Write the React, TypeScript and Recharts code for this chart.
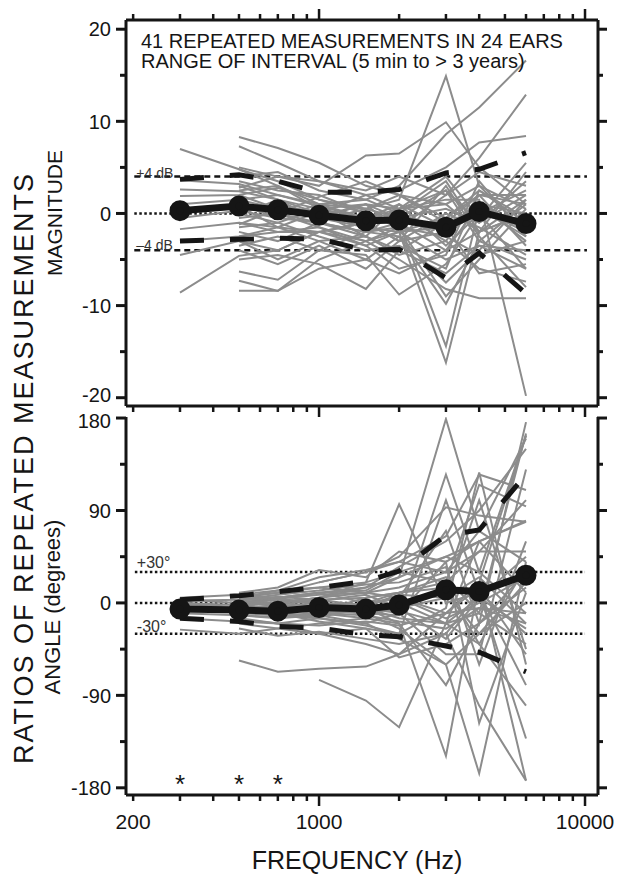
import React from "react";
import { ComposedChart, Line, XAxis, YAxis, ReferenceLine, Scatter } from "recharts";

const freqs = [300, 500, 700, 1000, 1500, 2000, 3000, 4000, 6000];
const xTicks = [200, 300, 400, 500, 600, 700, 800, 900, 1000, 2000, 3000, 4000, 5000, 6000, 7000, 8000, 9000, 10000];
const xLabels = [200, 1000, 10000];
const magTicks = [-20, -15, -10, -5, 0, 5, 10, 15, 20];
const angTicks = [-180, -135, -90, -45, 0, 45, 90, 135, 180];

// mean and mean +/- 2 SD
const magMean = [0.3, 0.8, 0.4, -0.2, -0.8, -0.7, -1.5, 0.2, -1.1];
const magUpper = [3.7, 4.2, 3.5, 2.3, 2.3, 2.6, 4.4, 4.8, 6.6];
const magLower = [-3.0, -2.8, -2.7, -2.75, -4.0, -3.9, -7.0, -4.3, -8.7];
const angMean = [-6, -7, -8, -4.5, -6, -2, 12.7, 11, 27];
const angUpper = [3, 7, 11, 15, 21, 31, 66, 71, 125];
const angLower = [-15, -18, -23, -24.5, -31, -33, -42, -48, -67];

// individual repeated measurements (dB)
const magLines: (number | null)[][] = [
  [7.0, 4.8, 3.5, 1.5, 0.5, 2.0, -1.0, 0.5, -2.5],
  [3.6, 3.2, 2.0, 0.8, -0.5, 0.0, -3.0, 2.0, 1.0],
  [2.6, 2.4, 1.5, 0.5, 1.0, 0.5, 2.5, -1.0, 2.0],
  [1.9, 2.0, 2.8, 1.5, 0.0, -1.0, -4.0, 1.0, -3.0],
  [1.0, 1.5, 0.5, -0.5, -1.5, 0.5, 1.0, 3.0, 0.5],
  [0.2, 0.8, 0.0, -1.0, -2.0, -2.5, -9.8, -3.0, -5.0],
  [-0.5, 0.3, -0.5, 1.0, 1.5, 0.0, 3.5, -2.0, 4.5],
  [-1.7, -1.0, -1.5, -2.0, -1.0, -3.0, -2.0, 0.0, -1.5],
  [-3.0, -2.5, -2.0, -1.5, -3.5, -2.0, -5.0, -3.5, -6.0],
  [-4.5, -3.0, -5.0, -3.0, -2.5, -4.0, -1.0, 2.0, -3.5],
  [-8.6, -4.6, -4.0, -2.0, -3.0, -5.0, -8.2, -9.2, -9.2],
  [null, 8.3, 7.1, 5.5, 3.0, 2.0, 1.0, -2.0, 1.5],
  [null, 7.3, 5.5, 3.5, 2.5, 4.0, 2.0, 4.5, 3.0],
  [null, 5.0, 4.0, 3.0, 6.3, 6.5, 9.9, 5.0, 1.0],
  [null, 4.8, 3.0, 1.0, 0.5, 1.5, 14.9, 3.0, -2.0],
  [null, 4.0, 4.5, 2.5, 1.5, 3.0, 8.6, 11.5, 16.6],
  [null, 3.5, 2.5, 2.0, 0.0, -1.5, 2.0, 6.0, 12.9],
  [null, 3.0, 1.5, 0.0, 2.0, 2.5, 5.0, 7.7, 8.4],
  [null, 2.5, 3.0, 0.5, -1.0, 0.0, -2.0, 1.0, 0.0],
  [null, 2.0, 0.5, -0.5, 1.0, -0.5, 0.5, -1.0, 3.5],
  [null, 1.5, 2.0, 1.0, -0.5, 1.0, -3.5, 0.0, -6.0],
  [null, 1.0, -0.5, -1.0, -2.0, -1.0, -14.4, 0.5, -2.0],
  [null, 0.5, 1.0, 0.0, -1.5, -2.0, -16.2, -2.0, 0.0],
  [null, 0.0, -1.0, 0.5, -0.5, 0.5, 1.5, 1.5, -19.8],
  [null, -0.5, 0.0, -1.5, -3.0, -1.5, -2.5, -4.5, -3.0],
  [null, -1.0, -2.0, -2.0, -1.0, -3.0, 0.0, -1.5, -4.5],
  [null, -1.5, -1.0, -2.5, -4.0, -3.5, -6.0, 2.5, -1.0],
  [null, -2.0, -3.0, -1.0, -2.5, -4.5, -3.0, -6.0, -7.4],
  [null, -2.5, -1.5, -3.0, -5.0, -2.5, -7.5, -4.0, 1.5],
  [null, -3.0, -4.0, -2.0, -3.5, -6.0, -4.5, 3.5, -2.5],
  [null, -3.5, -2.5, -4.0, -2.0, -1.5, -9.0, -5.0, 0.5],
  [null, -4.0, -5.5, -3.5, -6.0, -3.0, 3.0, -2.5, -8.0],
  [null, -5.0, -4.5, -5.5, -8.2, -4.0, -6.5, -3.5, -4.0],
  [null, -6.3, -7.2, -4.0, -4.5, -8.8, -5.5, 0.0, 2.5],
  [null, -7.3, -8.4, -5.0, -3.0, -2.0, -1.5, -6.5, -5.5],
  [null, -8.4, -8.4, -6.0, -5.0, -6.5, -4.0, -2.0, 0.0],
  [null, 2.8, 4.0, 3.5, 2.0, 0.5, 4.0, -0.5, 5.5],
  [null, 1.2, 0.0, 1.8, 3.5, 2.0, -0.5, 2.5, -0.5],
  [null, -0.2, 1.5, -0.8, 0.5, -0.5, 2.5, -3.0, 1.0],
  [null, 0.8, -1.5, 0.2, -2.5, 1.0, -1.5, 1.0, -1.5],
  [null, -1.2, 0.5, -0.3, 1.0, -2.0, -0.5, 2.0, 2.0],
];

// individual repeated measurements (degrees)
const angLines: (number | null)[][] = [
  [5, 8, 12, 15, 20, 30, 45, 60, 80],
  [2, 3, 5, 10, 15, 25, 179, 70, 40],
  [0, -2, 0, 5, 20, 96, 0, 10, -30],
  [-3, -5, -5, -2, -5, -8, -20, -40, -100],
  [-6, -8, -10, -6, -10, -12, 125, 30, 163],
  [-10, -12, -14, -10, -15, -20, -149, 20, 163],
  [-15, -18, -20, -15, -22, -30, -5, 127, -60],
  [-26, -30, -25, -20, -15, 0, 10, -30, 20],
  [3, 0, -3, 0, -2, 5, 70, -20, 176],
  [-1, -4, -7, -8, -10, -25, -60, -166, 40],
  [1, -6, -2, 3, 5, 10, 20, 115, 94],
  [null, -56, -67, -64, -62, -50, -10, -5, -20],
  [null, 10, 15, 32, 25, 50, 40, 60, 79],
  [null, 5, 10, 20, 30, 45, 93, 85, 79],
  [null, 0, 5, 10, 12, 30, 20, 50, 100],
  [null, -10, -12, -15, -20, -10, 40, -117, 10],
  [null, -20, -25, -30, -40, -50, -30, 10, -132],
  [null, -15, -20, -30, -25, -53, -40, -20, 30],
  [null, 2, 0, 5, 10, 15, 30, 50, 50],
  [null, -5, -3, -5, 0, 5, -10, 20, -173],
  [null, -2, -6, -10, -5, -15, -20, -10, -40],
  [null, 3, 8, 12, 18, 20, 35, -60, 60],
  [null, -8, -10, -18, -25, -30, 100, 10, -80],
  [null, -12, -15, -12, -20, -35, -60, -30, 0],
  [null, 4, 2, 0, -5, -10, -50, -50, 130],
  [null, -3, 0, 5, 15, 35, 60, 90, 150],
  [null, 1, -2, -5, -10, -5, 5, 25, -20],
  [null, -7, -12, -10, -12, -18, -25, -5, -10],
  [null, -25, -32, -28, -35, -40, -30, -100, -173],
  [null, -1, 4, 8, 10, 25, 45, 30, -10],
  [null, 6, 10, 15, 10, 5, -15, 0, 25],
  [null, -4, -8, -3, -8, 0, -20, 60, 10],
  [null, -9, -5, -8, 5, 10, 15, -40, 35],
  [null, 0, 3, 2, 8, -5, -35, 5, 45],
  [null, -16, -20, -22, -18, -22, -10, 15, -50],
  [null, 7, 5, 10, 0, 10, 25, -10, 165],
  [null, -6, -9, -14, -5, -20, -80, -20, 15],
  [null, 2, 6, 3, -3, 8, 5, 100, -45],
  [null, null, null, -75, -95, -121, -20, 5, -25],
  [null, null, null, 20, 30, 40, 65, 125, 110],
  [null, 5, 12, 25, 32, 40, 30, 70, 160],
];

const starFreqs = [300, 500, 700];
const starLevel = -171;

const font = "'Liberation Sans', Arial, Helvetica, sans-serif";
const ink = "#151515";
const gray = "#8c8c8c";

function buildRows(lines: (number | null)[][], mean: number[], upper: number[], lower: number[]) {
  return freqs.map((f, i) => {
    const row: Record<string, number | null> = { f, mean: mean[i], upper: upper[i], lower: lower[i] };
    lines.forEach((l, j) => {
      row["g" + j] = l[i];
    });
    return row;
  });
}

const magRows = buildRows(magLines, magMean, magUpper, magLower);
const angRows = buildRows(angLines, angMean, angUpper, angLower);
const starRows = starFreqs.map((f) => ({ f, a: starLevel }));

const isDecade = (v: number) => v === 1000 || v === 10000;

const bottomTick = (labels: boolean) => (p: any) => {
  const v = p.payload.value;
  return (
    <g>
      <line x1={p.x} x2={p.x} y1={p.y - 1} y2={p.y + (isDecade(v) ? 11 : 6)} stroke={ink} strokeWidth={2.5} />
      {labels && xLabels.includes(v) && (
        <text x={p.x} y={p.y + 34} textAnchor="middle" fontSize={21} fontFamily={font} fill={ink}>
          {v}
        </text>
      )}
    </g>
  );
};

const topTick = (p: any) => {
  const v = p.payload.value;
  return <line x1={p.x} x2={p.x} y1={p.y} y2={p.y - (isDecade(v) ? 11 : 6)} stroke={ink} strokeWidth={2.5} />;
};

// the two labels where the panels meet sit a little apart, as in the figure
const labelNudge: Record<number, number> = { [-20]: -3, 180: 3 };

const leftTick = (step: number, nudge: boolean) => (p: any) => {
  const v = p.payload.value;
  const major = v % step === 0;
  const dy = nudge ? labelNudge[v] ?? 0 : 0;
  return (
    <g>
      <line x1={p.x} x2={p.x - (major ? 10 : 6)} y1={p.y} y2={p.y} stroke={ink} strokeWidth={3} />
      {major && (
        <text x={p.x - 15} y={p.y + dy} dy="0.36em" textAnchor="end" fontSize={20} fontFamily={font} fill={ink}>
          {v}
        </text>
      )}
    </g>
  );
};

const rightTick = (step: number) => (p: any) => {
  const major = p.payload.value % step === 0;
  return <line x1={p.x - 1} x2={p.x + (major ? 9 : 5)} y1={p.y} y2={p.y} stroke={ink} strokeWidth={3} />;
};

const refLabel = (text: string, dy: number, size: number) => (p: any) => (
  <text x={p.viewBox.x + 2} y={p.viewBox.y + dy} fontSize={size} fontFamily={font} fill="#333">
    {text}
  </text>
);

const axisLine = { stroke: ink, strokeWidth: 3 };
const xDomain: [number, number] = [188, 11190];

function grayLines(lines: (number | null)[][]) {
  return lines.map((_, j) => (
    <Line
      key={j}
      dataKey={"g" + j}
      stroke={gray}
      strokeWidth={2}
      dot={false}
      isAnimationActive={false}
      type="linear"
    />
  ));
}

function summaryLines() {
  return [
    <Line key="up" dataKey="upper" stroke={ink} strokeWidth={5} strokeDasharray="24 26" dot={false} isAnimationActive={false} type="linear" />,
    <Line key="lo" dataKey="lower" stroke={ink} strokeWidth={5} strokeDasharray="24 26" dot={false} isAnimationActive={false} type="linear" />,
    <Line key="mean" dataKey="mean" stroke={ink} strokeWidth={7} dot={{ r: 7, fill: ink, stroke: ink }} isAnimationActive={false} type="linear" />,
  ];
}

// axes get a 1px size: Recharts skips drawing an axis whose size is 0
function MagnitudePanel() {
  return (
    <ComposedChart width={634} height={430} data={magRows} margin={{ top: 19, right: 35, bottom: 23, left: 125 }}>
      <XAxis dataKey="f" type="number" scale="log" domain={xDomain} allowDataOverflow ticks={xTicks} interval={0}
        height={1} tickSize={0} tickMargin={0} tickLine={false} axisLine={axisLine} tick={bottomTick(false)} />
      <XAxis xAxisId="top" orientation="top" dataKey="f" type="number" scale="log" domain={xDomain} allowDataOverflow
        ticks={xTicks} interval={0} height={1} tickSize={0} tickMargin={0} tickLine={false} axisLine={axisLine} tick={topTick} />
      <YAxis type="number" domain={[-20.9, 21]} allowDataOverflow ticks={magTicks} interval={0} width={1}
        tickSize={0} tickMargin={0} tickLine={false} axisLine={axisLine} tick={leftTick(10, true)} />
      <YAxis yAxisId="right" orientation="right" type="number" domain={[-20.9, 21]} allowDataOverflow ticks={magTicks}
        interval={0} width={1} tickSize={0} tickMargin={0} tickLine={false} axisLine={axisLine} tick={rightTick(10)} />
      <ReferenceLine segment={[{ x: 202, y: 4 }, { x: 10170, y: 4 }]} stroke={ink} strokeWidth={2.5} strokeDasharray="6 4"
        label={refLabel("+4 dB", 1, 14)} />
      <ReferenceLine segment={[{ x: 202, y: 0 }, { x: 10170, y: 0 }]} stroke={ink} strokeWidth={2.5} strokeDasharray="2.5 2.5" />
      <ReferenceLine segment={[{ x: 202, y: -4 }, { x: 10170, y: -4 }]} stroke={ink} strokeWidth={2.5} strokeDasharray="6 4"
        label={refLabel("\u20134 dB", 0, 14)} />
      {grayLines(magLines)}
      {summaryLines()}
    </ComposedChart>
  );
}

function AnglePanel() {
  return (
    <ComposedChart width={634} height={486} data={angRows} margin={{ top: 17, right: 35, bottom: 90, left: 125 }}>
      <XAxis dataKey="f" type="number" scale="log" domain={xDomain} allowDataOverflow ticks={xTicks} interval={0}
        height={1} tickSize={0} tickMargin={0} tickLine={false} axisLine={axisLine} tick={bottomTick(true)} />
      <YAxis type="number" domain={[-187, 181]} allowDataOverflow ticks={angTicks} interval={0} width={1}
        tickSize={0} tickMargin={0} tickLine={false} axisLine={axisLine} tick={leftTick(90, true)} />
      <YAxis yAxisId="right" orientation="right" type="number" domain={[-187, 181]} allowDataOverflow ticks={angTicks}
        interval={0} width={1} tickSize={0} tickMargin={0} tickLine={false} axisLine={axisLine} tick={rightTick(90)} />
      <ReferenceLine segment={[{ x: 203, y: 30 }, { x: 10000, y: 30 }]} stroke={ink} strokeWidth={2.5} strokeDasharray="2.5 2.5"
        label={refLabel("+30\u00b0", -4, 16)} />
      <ReferenceLine segment={[{ x: 203, y: 0 }, { x: 10000, y: 0 }]} stroke={ink} strokeWidth={2.5} strokeDasharray="2.5 2.5" />
      <ReferenceLine segment={[{ x: 203, y: -30 }, { x: 10000, y: -30 }]} stroke={ink} strokeWidth={2.5} strokeDasharray="2.5 2.5"
        label={refLabel("-30\u00b0", -2, 16)} />
      {grayLines(angLines)}
      {summaryLines()}
      <Scatter data={starRows} dataKey="a" isAnimationActive={false}
        shape={(p: any) => (
          <text x={p.cx} y={p.cy + 14} textAnchor="middle" fontSize={26} fontFamily={font} fill={ink}>*</text>
        )} />
    </ComposedChart>
  );
}

export default function App() {
  return (
    <div style={{ position: "absolute", left: 0, top: 0, width: 634, height: 886, background: "#fff" }}>
      <div style={{ position: "absolute", left: 0, top: 0 }}>
        <MagnitudePanel />
      </div>
      <div style={{ position: "absolute", left: 0, top: 400 }}>
        <AnglePanel />
      </div>
      <svg width={634} height={886} style={{ position: "absolute", left: 0, top: 0, pointerEvents: "none" }}>
        <g fontFamily={font} fill={ink}>
          <text x={141} y={48} fontSize={20}>41 REPEATED MEASUREMENTS IN 24 EARS</text>
          <text x={141} y={68} fontSize={20}>RANGE OF INTERVAL (5 min to &gt; 3 years)</text>
          <text x={33} y={468} fontSize={27} letterSpacing={2} textAnchor="middle" transform="rotate(-90 33 468)">
            RATIOS OF REPEATED MEASUREMENTS
          </text>
          <text x={62} y={213} fontSize={21} textAnchor="middle" transform="rotate(-90 62 213)">MAGNITUDE</text>
          <text x={60} y={607} fontSize={22} textAnchor="middle" transform="rotate(-90 60 607)">ANGLE (degrees)</text>
          <text x={357} y={869} fontSize={25} textAnchor="middle">FREQUENCY (Hz)</text>
        </g>
      </svg>
    </div>
  );
}
